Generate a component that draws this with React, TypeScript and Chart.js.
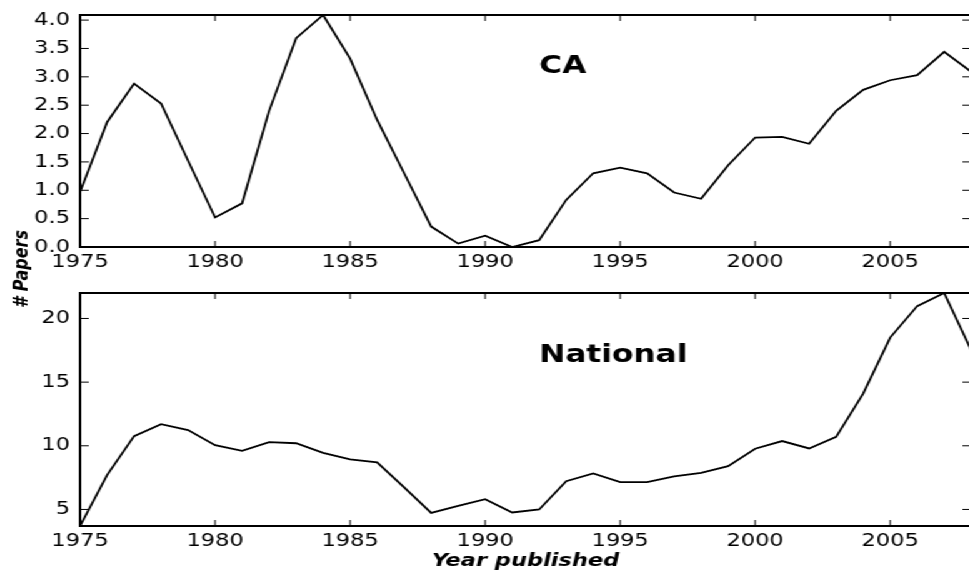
import React, { useEffect, useRef } from 'react';
import { Chart, registerables } from 'chart.js';

Chart.register(...registerables);

// ---- data ----
const years = [
  1975, 1976, 1977, 1978, 1979, 1980, 1981, 1982, 1983, 1984, 1985, 1986,
  1987, 1988, 1989, 1990, 1991, 1992, 1993, 1994, 1995, 1996, 1997, 1998,
  1999, 2000, 2001, 2002, 2003, 2004, 2005, 2006, 2007, 2008,
];
const caPapers = [
  0.97, 2.2, 2.88, 2.53, 1.52, 0.52, 0.77, 2.4, 3.68, 4.09, 3.32, 2.24,
  1.3, 0.36, 0.06, 0.2, 0.0, 0.12, 0.83, 1.3, 1.4, 1.3, 0.96, 0.85,
  1.44, 1.93, 1.94, 1.82, 2.4, 2.77, 2.94, 3.03, 3.44, 3.09,
];
const nationalPapers = [
  3.7, 7.7, 10.76, 11.7, 11.23, 10.05, 9.6, 10.29, 10.2, 9.45, 8.93, 8.69,
  6.73, 4.73, 5.28, 5.81, 4.76, 5.0, 7.22, 7.83, 7.14, 7.14, 7.6, 7.87,
  8.4, 9.77, 10.37, 9.79, 10.7, 14.1, 18.5, 20.97, 22.0, 17.5,
];
const yearTicks = [1975, 1980, 1985, 1990, 1995, 2000, 2005];
const caTicks = [0, 0.5, 1, 1.5, 2, 2.5, 3, 3.5, 4];
const nationalTicks = [5, 10, 15, 20];
const yearRange = [1975, 2008];
const caRange = [0, 4.09];
const nationalRange = [3.7, 22];

const FONT = "'DejaVu Sans', 'Liberation Sans', sans-serif";

const framePlugin = {
  id: 'frame',
  afterDatasetsDraw(chart: any) {
    const { ctx, chartArea: a, scales } = chart;
    ctx.save();
    ctx.strokeStyle = '#000';
    ctx.lineWidth = 1;
    ctx.beginPath();
    scales.x.ticks.forEach((t: any) => {
      const px = scales.x.getPixelForValue(t.value);
      ctx.moveTo(px, a.bottom);
      ctx.lineTo(px, a.bottom - 6);
      ctx.moveTo(px, a.top);
      ctx.lineTo(px, a.top + 6);
    });
    scales.y.ticks.forEach((t: any) => {
      const py = scales.y.getPixelForValue(t.value);
      ctx.moveTo(a.left, py);
      ctx.lineTo(a.left + 7, py);
      ctx.moveTo(a.right, py);
      ctx.lineTo(a.right - 7, py);
    });
    ctx.stroke();
    ctx.lineWidth = 2;
    ctx.strokeRect(a.left, a.top, a.right - a.left, a.bottom - a.top);
    ctx.restore();
  },
};

const panelLabelPlugin = {
  id: 'panelLabel',
  afterDatasetsDraw(chart: any, _args: any, opts: any) {
    if (!opts || !opts.text) return;
    const { ctx, scales } = chart;
    ctx.save();
    ctx.fillStyle = '#000';
    ctx.font = `bold 25px ${FONT}`;
    ctx.textAlign = 'left';
    ctx.textBaseline = 'middle';
    ctx.fillText(opts.text, scales.x.getPixelForValue(opts.x), scales.y.getPixelForValue(opts.y));
    if (opts.yTitle) {
      ctx.translate(opts.yTitleX, opts.yTitleY);
      ctx.rotate(-Math.PI / 2);
      ctx.font = `italic bold 16px ${FONT}`;
      ctx.textAlign = 'center';
      ctx.textBaseline = 'middle';
      ctx.fillText(opts.yTitle, 0, 0);
    }
    ctx.restore();
  },
};

function makeConfig(
  values: number[],
  range: number[],
  yTicks: number[],
  decimals: number,
  padding: any,
  xHeight: number,
  showXTitle: boolean,
  label: any
): any {
  const tickFont = { family: FONT, size: 18 };
  return {
    type: 'line',
    data: {
      datasets: [
        {
          data: years.map((x, i) => ({ x, y: values[i] })),
          borderColor: '#000',
          borderWidth: 1.8,
          pointRadius: 0,
          tension: 0,
          fill: false,
        },
      ],
    },
    plugins: [framePlugin, panelLabelPlugin],
    options: {
      animation: false,
      responsive: false,
      devicePixelRatio: 1,
      layout: { padding },
      plugins: {
        legend: { display: false },
        tooltip: { enabled: false },
        panelLabel: label,
      },
      scales: {
        x: {
          type: 'linear',
          min: yearRange[0],
          max: yearRange[1],
          afterBuildTicks: (s: any) => {
            s.ticks = yearTicks.map((v) => ({ value: v }));
          },
          afterFit: (s: any) => {
            s.height = xHeight;
            s.paddingLeft = 0;
            s.paddingRight = 0;
            s.paddingTop = 0;
            s.paddingBottom = 0;
          },
          grid: { display: false, drawTicks: false },
          border: { display: false },
          ticks: {
            padding: 5,
            autoSkip: false,
            maxRotation: 0,
            color: '#000',
            font: tickFont,
            callback: (v: any) => String(v),
          },
          title: {
            display: showXTitle,
            text: 'Year published',
            color: '#000',
            font: { family: FONT, size: 18, style: 'italic', weight: 'bold' },
            padding: { top: 0, bottom: -1 },
          },
        },
        y: {
          type: 'linear',
          min: range[0],
          max: range[1],
          afterBuildTicks: (s: any) => {
            s.ticks = yTicks.map((v) => ({ value: v }));
          },
          afterFit: (s: any) => {
            s.width = 64;
            s.paddingLeft = 0;
            s.paddingRight = 0;
            s.paddingTop = 0;
            s.paddingBottom = 0;
          },
          grid: { display: false, drawTicks: false },
          border: { display: false },
          ticks: {
            padding: 8,
            autoSkip: false,
            color: '#000',
            font: tickFont,
            callback: (v: any) => Number(v).toFixed(decimals),
          },
        },
      },
    },
  };
}

export default function App() {
  const topRef = useRef<HTMLCanvasElement>(null);
  const bottomRef = useRef<HTMLCanvasElement>(null);

  useEffect(() => {
    const top = new Chart(
      topRef.current as HTMLCanvasElement,
      makeConfig(
        caPapers,
        caRange,
        caTicks,
        1,
        { top: 15, bottom: 294, left: 0, right: 0 },
        30,
        false,
        { text: 'CA', x: 1992, y: 3.19, yTitle: '# Papers', yTitleX: 17.4, yTitleY: 269 }
      )
    );
    const bottom = new Chart(
      bottomRef.current as HTMLCanvasElement,
      makeConfig(
        nationalPapers,
        nationalRange,
        nationalTicks,
        0,
        { top: 293, bottom: 0, left: 0, right: 0 },
        45,
        true,
        { text: 'National', x: 1992, y: 17.1 }
      )
    );
    return () => {
      top.destroy();
      bottom.destroy();
    };
  }, []);

  return (
    <div
      style={{
        position: 'fixed',
        left: 0,
        top: 0,
        width: 969,
        height: 571,
        overflow: 'hidden',
        background: '#fff',
      }}
    >
      <div
        style={{
          position: 'absolute',
          left: 0,
          top: 0,
          width: 777,
          height: 571,
          transform: 'scaleX(1.25)',
          transformOrigin: '0 0',
        }}
      >
        <canvas ref={topRef} width={777} height={571} style={{ position: 'absolute', left: 0, top: 0 }} />
        <canvas ref={bottomRef} width={777} height={571} style={{ position: 'absolute', left: 0, top: 0 }} />
      </div>
    </div>
  );
}
